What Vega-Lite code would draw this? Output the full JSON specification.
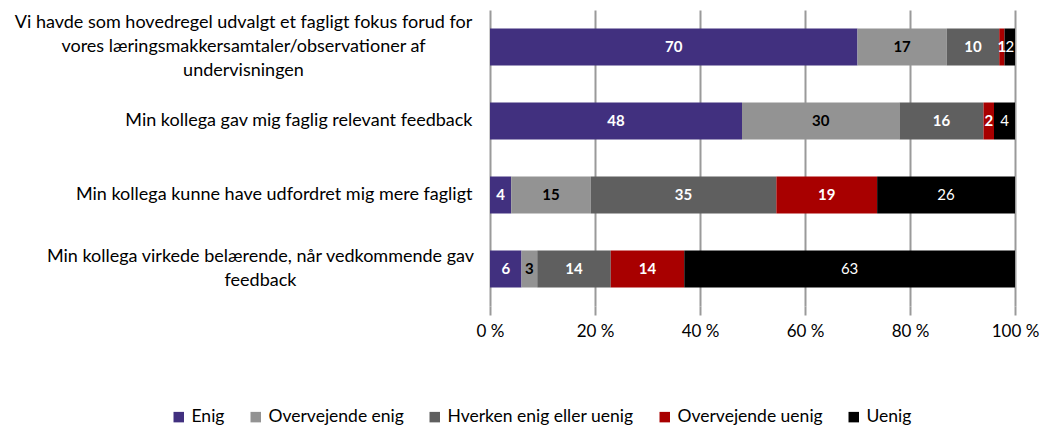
{
  "$schema": "https://vega.github.io/schema/vega-lite/v6.json",
  "width": 525,
  "height": 296,
  "autosize": "none",
  "padding": {"left": 490, "top": 10, "right": 25, "bottom": 119},
  "background": "white",
  "config": {
    "font": "Lato",
    "view": {"stroke": null}
  },
  "data": {
    "values": [
      {"q": "Vi havde som hovedregel udvalgt et fagligt fokus forud for|vores  læringsmakkersamtaler/observationer af|undervisningen", "k": "Enig", "v": 70},
      {"q": "Vi havde som hovedregel udvalgt et fagligt fokus forud for|vores  læringsmakkersamtaler/observationer af|undervisningen", "k": "Overvejende enig", "v": 17},
      {"q": "Vi havde som hovedregel udvalgt et fagligt fokus forud for|vores  læringsmakkersamtaler/observationer af|undervisningen", "k": "Hverken enig eller uenig", "v": 10},
      {"q": "Vi havde som hovedregel udvalgt et fagligt fokus forud for|vores  læringsmakkersamtaler/observationer af|undervisningen", "k": "Overvejende uenig", "v": 1},
      {"q": "Vi havde som hovedregel udvalgt et fagligt fokus forud for|vores  læringsmakkersamtaler/observationer af|undervisningen", "k": "Uenig", "v": 2},
      {"q": "Min kollega gav mig faglig relevant feedback", "k": "Enig", "v": 48},
      {"q": "Min kollega gav mig faglig relevant feedback", "k": "Overvejende enig", "v": 30},
      {"q": "Min kollega gav mig faglig relevant feedback", "k": "Hverken enig eller uenig", "v": 16},
      {"q": "Min kollega gav mig faglig relevant feedback", "k": "Overvejende uenig", "v": 2},
      {"q": "Min kollega gav mig faglig relevant feedback", "k": "Uenig", "v": 4},
      {"q": "Min kollega kunne have udfordret mig mere fagligt", "k": "Enig", "v": 4},
      {"q": "Min kollega kunne have udfordret mig mere fagligt", "k": "Overvejende enig", "v": 15},
      {"q": "Min kollega kunne have udfordret mig mere fagligt", "k": "Hverken enig eller uenig", "v": 35},
      {"q": "Min kollega kunne have udfordret mig mere fagligt", "k": "Overvejende uenig", "v": 19},
      {"q": "Min kollega kunne have udfordret mig mere fagligt", "k": "Uenig", "v": 26},
      {"q": "Min kollega virkede belærende, når vedkommende gav|feedback", "k": "Enig", "v": 6},
      {"q": "Min kollega virkede belærende, når vedkommende gav|feedback", "k": "Overvejende enig", "v": 3},
      {"q": "Min kollega virkede belærende, når vedkommende gav|feedback", "k": "Hverken enig eller uenig", "v": 14},
      {"q": "Min kollega virkede belærende, når vedkommende gav|feedback", "k": "Overvejende uenig", "v": 14},
      {"q": "Min kollega virkede belærende, når vedkommende gav|feedback", "k": "Uenig", "v": 63}
    ]
  },
  "transform": [
    {"calculate": "indexof(['Enig','Overvejende enig','Hverken enig eller uenig','Overvejende uenig','Uenig'], datum.k)", "as": "ord"},
    {"stack": "v", "groupby": ["q"], "sort": [{"field": "ord", "order": "ascending"}], "offset": "normalize", "as": ["x0", "x1"]},
    {"calculate": "(datum.x0 + datum.x1) / 2", "as": "xm"}
  ],
  "encoding": {
    "y": {
      "field": "q",
      "type": "nominal",
      "sort": null,
      "scale": {"paddingInner": 0.5, "paddingOuter": 0.25},
      "axis": {
        "title": null,
        "domain": false,
        "ticks": false,
        "labelExpr": "split(datum.label, '|')",
        "labelFontSize": 18,
        "labelColor": "#000000",
        "labelLineHeight": 24,
        "labelLimit": 600,
        "labelAlign": {"condition": {"test": "indexof(datum.value, '|') >= 0", "value": "center"}, "value": "right"},
        "labelOffset": {"condition": [
          {"test": "indexof(datum.value, 'Vi havde') >= 0", "value": -24},
          {"test": "indexof(datum.value, 'belærende') >= 0", "value": -12}
        ], "value": 0},
        "labelPadding": {"condition": [
          {"test": "indexof(datum.value, 'Vi havde') >= 0", "value": 247},
          {"test": "indexof(datum.value, 'belærende') >= 0", "value": 230}
        ], "value": 18}
      }
    }
  },
  "layer": [
    {
      "mark": {"type": "bar"},
      "encoding": {
        "x": {
          "field": "x0",
          "type": "quantitative",
          "scale": {"domain": [0, 1]},
          "axis": {
            "title": null,
            "values": [0, 0.2, 0.4, 0.6, 0.8, 1],
            "labelExpr": "round(datum.value * 100) + ' %'",
            "labelFontSize": 17,
            "labelColor": "#000000",
            "labelPadding": 8,
            "labelFlush": false,
            "domain": false,
            "grid": true,
            "gridColor": "#9a9a9a",
            "gridWidth": 2,
            "tickColor": "#9a9a9a",
            "tickWidth": 2,
            "tickSize": 9
          }
        },
        "x2": {"field": "x1"},
        "color": {
          "field": "k",
          "type": "nominal",
          "scale": {
            "domain": ["Enig", "Overvejende enig", "Hverken enig eller uenig", "Overvejende uenig", "Uenig"],
            "range": ["#41307f", "#939393", "#5f5f5f", "#a80000", "#000000"]
          },
          "legend": {
            "title": null,
            "orient": "none",
            "direction": "horizontal",
            "legendX": -320,
            "legendY": 398,
            "symbolType": "square",
            "symbolSize": 110,
            "symbolStrokeWidth": 0,
            "labelFontSize": 17.5,
            "labelColor": "#000000",
            "labelLimit": 400,
            "columnPadding": 22,
            "labelOffset": 4
          }
        }
      }
    },
    {
      "transform": [{"filter": "datum.k !== 'Uenig'"}],
      "mark": {"type": "text", "fontSize": 15, "fontWeight": "bold"},
      "encoding": {
        "x": {"field": "xm", "type": "quantitative"},
        "text": {"field": "v", "type": "quantitative"},
        "color": {
          "condition": {"test": "datum.k === 'Overvejende enig'", "value": "#000000"},
          "value": "#ffffff"
        }
      }
    },
    {
      "transform": [{"filter": "datum.k === 'Uenig'"}],
      "mark": {"type": "text", "fontSize": 15, "color": "#ffffff"},
      "encoding": {
        "x": {"field": "xm", "type": "quantitative"},
        "text": {"field": "v", "type": "quantitative"}
      }
    }
  ]
}
